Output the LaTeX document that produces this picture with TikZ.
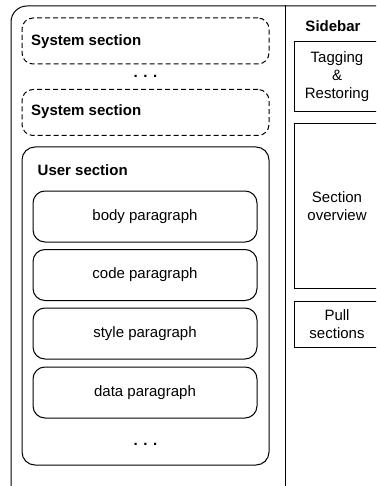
\documentclass[tikz,border=0pt]{standalone}
\usepackage{fontspec}
\setmainfont{Liberation Sans}
\begin{document}
\begin{tikzpicture}[x=1pt,y=-1pt,
  every node/.style={font=\fontsize{15}{18}\selectfont},
  sysbox/.style={draw, line width=1pt, dash pattern=on 5pt off 3pt, rounded corners=11pt, minimum width=247pt, minimum height=46pt, inner sep=0pt},
  userbox/.style={draw, line width=1pt, rounded corners=13pt, minimum width=247pt, minimum height=318pt, inner sep=0pt},
  parbox/.style={draw, line width=1pt, rounded corners=12pt, minimum width=224pt, minimum height=51pt, inner sep=0pt},
  sidebox/.style={draw, line width=1pt, minimum width=86pt, inner sep=0pt, align=center},
  heading/.style={font=\fontsize{15}{18}\selectfont\bfseries, anchor=west, inner sep=0pt},
  dots/.style={font=\fontsize{15}{18}\selectfont\bfseries}
]
\useasboundingbox (0,0) rectangle (376,486);
\clip (0,0) rectangle (376,486);
% outer frame
\node[draw, line width=1pt, rounded corners=16pt, minimum width=480pt, minimum height=500pt, inner sep=0pt, anchor=north west] (frame) at (10.5,5.5) {};
\coordinate (divtop) at (285.5,5.5);
\coordinate (divbot) at (285.5,490);
\draw[line width=1pt] (divtop) -- (divbot);
% system sections
\node[sysbox] (sys1) at (145.5,41) {};
\node[heading] (sys1t) at (31,42) {System section};
\node[dots] (dots1) at (145.5,76.5) {. . .};
\node[sysbox] (sys2) at (145.5,112.5) {};
\node[heading] (sys2t) at (31,111.5) {System section};
% user section
\node[userbox] (user) at (145.5,306) {};
\node[heading] (usert) at (37.5,170) {User section};
\node[parbox] (body) at (145,216.5) {body paragraph};
\node[parbox] (code) at (145,275) {code paragraph};
\node[parbox] (style) at (145,333.5) {style paragraph};
\node[parbox] (data) at (145,392.5) {data paragraph};
\node[dots] (dots2) at (145.5,444.5) {. . .};
% sidebar
\node[font=\fontsize{15}{18}\selectfont\bfseries] (sidebar) at (333,26) {Sidebar};
\node[sidebox, minimum height=70pt] (tag) at (337,77) {Tagging\\\&\\Restoring};
\node[sidebox, minimum height=164pt] (overview) at (337,206) {Section\\overview};
\node[sidebox, minimum height=46pt] (pull) at (337,324) {Pull\\sections};
\end{tikzpicture}
\end{document}
